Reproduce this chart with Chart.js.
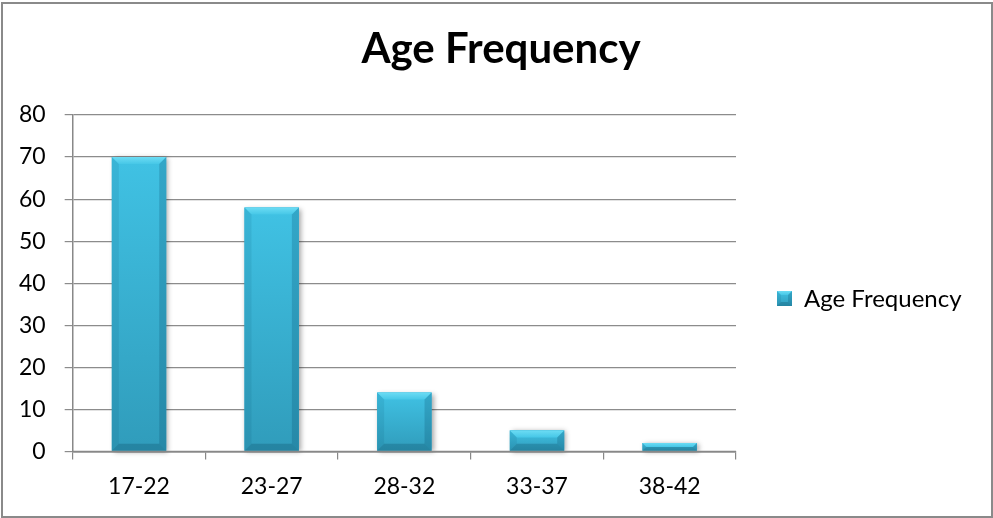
<!DOCTYPE html>
<html>
<head>
<meta charset="utf-8">
<script src="https://cdn.jsdelivr.net/npm/chart.js@4/dist/chart.umd.min.js"></script>
<style>
  html, body { margin: 0; padding: 0; background: #fff; }
  #wrap { width: 993px; height: 518px; position: relative; }
</style>
</head>
<body>
<div id="wrap"><canvas id="c" width="993" height="518"></canvas></div>
<script>
const chartTitle = "Age Frequency";
const seriesLabel = "Age Frequency";
const categories = ["17-22", "23-27", "28-32", "33-37", "38-42"];
const values = [70, 58, 14, 5, 2];
const yTicks = [0, 10, 20, 30, 40, 50, 60, 70, 80];

const FONT = "Lato, 'Noto Sans', sans-serif";

function drawBevelBox(ctx, l, t, r, b, dmax, shadow) {
  const h = b - t, w = r - l;
  const d = Math.min(dmax, h / 2, w / 2);
  ctx.save();
  if (shadow) {
    ctx.save();
    ctx.shadowColor = 'rgba(0,0,0,0.35)';
    ctx.shadowBlur = 5;
    ctx.shadowOffsetX = 2;
    ctx.shadowOffsetY = 1;
    ctx.fillStyle = '#36acd0';
    ctx.fillRect(l, t, w, h);
    ctx.restore();
  }
  const g = ctx.createLinearGradient(0, t, 0, b);
  g.addColorStop(0, '#40c2e4');
  g.addColorStop(1, '#309cbb');
  ctx.fillStyle = g;
  ctx.fillRect(l, t, w, h);
  const gt = ctx.createLinearGradient(0, t, 0, t + d);
  gt.addColorStop(0, '#6cdcf4');
  gt.addColorStop(1, '#46c7e7');
  ctx.fillStyle = gt;
  ctx.beginPath();
  ctx.moveTo(l, t); ctx.lineTo(r, t); ctx.lineTo(r - d, t + d); ctx.lineTo(l + d, t + d); ctx.closePath();
  ctx.fill();
  ctx.fillStyle = 'rgba(0,70,100,0.10)';
  ctx.beginPath();
  ctx.moveTo(l, t); ctx.lineTo(l + d, t + d); ctx.lineTo(l + d, b - d); ctx.lineTo(l, b); ctx.closePath();
  ctx.fill();
  ctx.fillStyle = 'rgba(0,60,90,0.20)';
  ctx.beginPath();
  ctx.moveTo(r, t); ctx.lineTo(r - d, t + d); ctx.lineTo(r - d, b - d); ctx.lineTo(r, b); ctx.closePath();
  ctx.fill();
  ctx.fillStyle = 'rgba(0,50,75,0.22)';
  ctx.beginPath();
  ctx.moveTo(l, b); ctx.lineTo(r, b); ctx.lineTo(r - d, b - d); ctx.lineTo(l + d, b - d); ctx.closePath();
  ctx.fill();
  ctx.restore();
}

const bevelPlugin = {
  id: 'bevel',
  afterDatasetsDraw(chart) {
    const ctx = chart.ctx;
    const meta = chart.getDatasetMeta(0);
    meta.data.forEach(bar => {
      const p = bar.getProps(['x', 'y', 'base', 'width'], true);
      const l = p.x - p.width / 2, r = p.x + p.width / 2;
      const t = Math.min(p.y, p.base), b = Math.max(p.y, p.base);
      drawBevelBox(ctx, l, t, r, b, 7, true);
    });
    const xs = chart.scales.x;
    ctx.save();
    ctx.strokeStyle = '#888';
    ctx.lineWidth = 1.5;
    ctx.beginPath();
    ctx.moveTo(chart.chartArea.left, xs.top);
    ctx.lineTo(chart.chartArea.right, xs.top);
    ctx.stroke();
    ctx.restore();
  },
  afterDraw(chart) {
    const ctx = chart.ctx;
    // title, centred on the whole chart
    ctx.save();
    ctx.fillStyle = '#000';
    ctx.font = "bold 42px " + FONT;
    ctx.textAlign = 'center';
    ctx.textBaseline = 'alphabetic';
    ctx.fillText(chartTitle, 501, 63);
    ctx.restore();
    // legend
    const ds = chart.data.datasets[0];
    const bx = 777, by = 291, bs = 15;
    drawBevelBox(ctx, bx, by, bx + bs, by + bs, 4, false);
    ctx.save();
    ctx.fillStyle = '#000';
    ctx.font = "24px " + FONT;
    ctx.textBaseline = 'middle';
    ctx.textAlign = 'left';
    ctx.fillText(ds.label, 804, by + bs / 2 + 1);
    ctx.restore();
    // outer border
    ctx.save();
    ctx.strokeStyle = '#8a8a8a';
    ctx.lineWidth = 2;
    ctx.strokeRect(2, 3, chart.width - 3, chart.height - 4);
    ctx.restore();
  }
};

new Chart(document.getElementById('c'), {
  type: 'bar',
  data: {
    labels: categories,
    datasets: [{
      label: seriesLabel,
      data: values,
      backgroundColor: 'rgba(0,0,0,0)',
      borderWidth: 0,
      barPercentage: 0.41,
      categoryPercentage: 1.0
    }]
  },
  options: {
    responsive: false,
    animation: false,
    devicePixelRatio: 1,
    layout: { padding: { left: 0, right: 257, top: 115, bottom: 5 } },
    plugins: {
      title: { display: false },
      legend: { display: false },
      tooltip: { enabled: false }
    },
    scales: {
      x: {
        offset: true,
        grid: { display: true, drawOnChartArea: false, drawTicks: true, tickLength: 8, offset: true, color: '#888', lineWidth: 1.2 },
        border: { display: true, color: '#888', width: 1.5 },
        ticks: { color: '#000', font: { family: FONT, size: 23 }, padding: 13, maxRotation: 0 }
      },
      y: {
        min: 0, max: 80,
        afterBuildTicks(axis) { axis.ticks = yTicks.map(v => ({ value: v })); },
        grid: { color: '#8c8c8c', lineWidth: 1.2, tickLength: 8, drawTicks: true },
        border: { display: true, color: '#888', width: 1.5 },
        ticks: { color: '#000', font: { family: FONT, size: 23 }, padding: 19 }
      }
    }
  },
  plugins: [bevelPlugin]
});
</script>
</body>
</html>
